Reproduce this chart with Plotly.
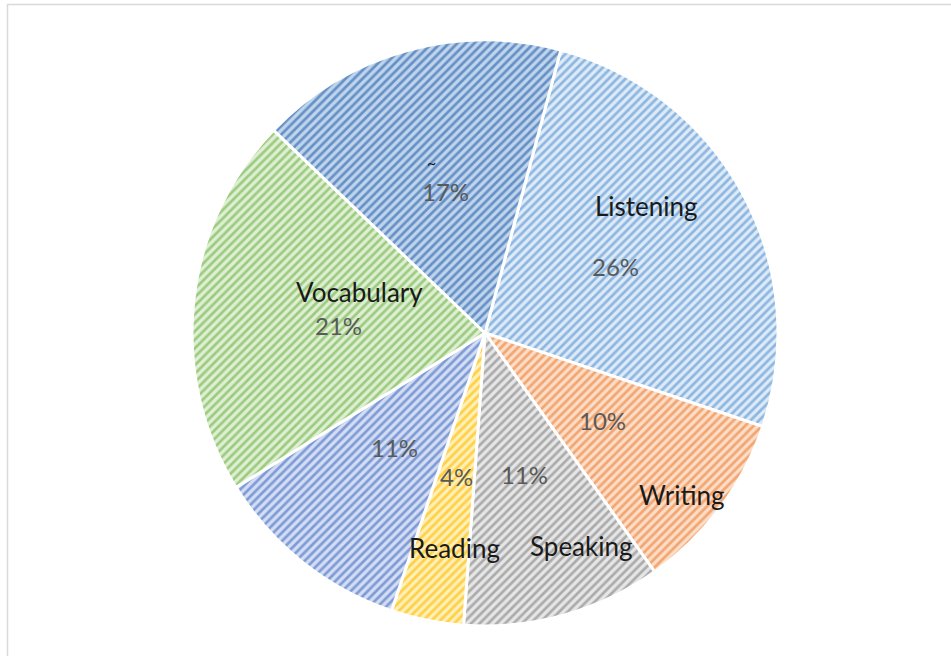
import math
import plotly.graph_objects as go

# ---- data ----
labels = ["Listening", "Writing", "Speaking", "Reading", "Other", "Vocabulary", "~"]
values = [26, 10, 11, 4, 11, 21, 17]
name_shown = ["Listening", "Writing", "Speaking", "Reading", "", "Vocabulary", "~"]

# ---- style ----
fg_colors = ["#8DB6E0", "#F3A570", "#ABABAB", "#FFCF45", "#7F9BD6", "#9CCB7F", "#6690C6"]
bg_colors = ["#DDEAF7", "#FBDDC8", "#E6E6E6", "#FFF0B8", "#D3DDF3", "#DFEFD4", "#BFD5EC"]
ROTATION = 15
W, H = 951, 656
CX, CY, R = 485, 333, 293          # pie centre / radius in pixels
PCT_R = 0.5                        # radial position of percentage labels
PCT_OFFSET = {"Vocabulary": -3.0, "Listening": 1.0}   # angle offsets for % labels
# name label placement: (radius fraction, angle offset from slice middle, deg)
NAME_POS = {
    "Listening": (0.70, -10.0),
    "Writing": (0.87, 2.8),
    "Speaking": (0.80, -8.8),
    "Reading": (0.74, -3.4),
    "Vocabulary": (0.45, 12.0),
    "~": (0.61, -1.7),
}
FONT = "Lato"

dom_x = [(CX - R) / W, (CX + R) / W]
dom_y = [1 - (CY + R) / H, 1 - (CY - R) / H]

fig = go.Figure(go.Pie(
    labels=labels,
    values=values,
    sort=False,
    direction="clockwise",
    rotation=ROTATION,
    textinfo="none",
    hoverinfo="label+percent",
    domain=dict(x=dom_x, y=dom_y),
    marker=dict(
        colors=fg_colors,
        line=dict(color="white", width=3),
        pattern=dict(
            shape="/",
            fillmode="replace",
            fgcolor=fg_colors,
            bgcolor=bg_colors,
            size=6,
            solidity=0.45,
        ),
    ),
    showlegend=False,
))


def to_paper(frac, ang_deg):
    a = math.radians(ang_deg)
    px = CX + frac * R * math.sin(a)
    py = CY - frac * R * math.cos(a)
    return px / W, 1 - py / H


total = sum(values)
cum = 0
annotations = []
for lab, v, nm in zip(labels, values, name_shown):
    mid = ROTATION + 360 * (cum + v / 2) / total
    cum += v
    x, y = to_paper(PCT_R, mid + PCT_OFFSET.get(lab, 0.0))
    annotations.append(dict(
        x=x, y=y, xref="paper", yref="paper", showarrow=False,
        xanchor="center", yanchor="middle",
        text=f"{round(100 * v / total)}%",
        font=dict(family=FONT, size=24, color="#595959"),
    ))
    if nm:
        fr, off = NAME_POS[nm]
        x, y = to_paper(fr, mid + off)
        annotations.append(dict(
            x=x, y=y, xref="paper", yref="paper", showarrow=False,
            xanchor="center", yanchor="middle",
            text=nm,
            font=dict(family=FONT, size=26 if nm != "~" else 16, color="#1a1a1a"),
        ))

fig.update_layout(
    width=W, height=H,
    margin=dict(l=0, r=0, t=0, b=0),
    paper_bgcolor="white",
    plot_bgcolor="white",
    annotations=annotations,
    shapes=[dict(
        type="rect", xref="paper", yref="paper",
        x0=7.5 / W, x1=1.02, y0=-0.02, y1=1 - 4.5 / H,
        line=dict(color="#D9D9D9", width=1.5),
        fillcolor="rgba(0,0,0,0)",
    )],
)

fig.write_html(
    "out.html",
    config={"displayModeBar": False},
    post_script="document.body.style.margin='0px';document.body.style.overflow='hidden';",
)
